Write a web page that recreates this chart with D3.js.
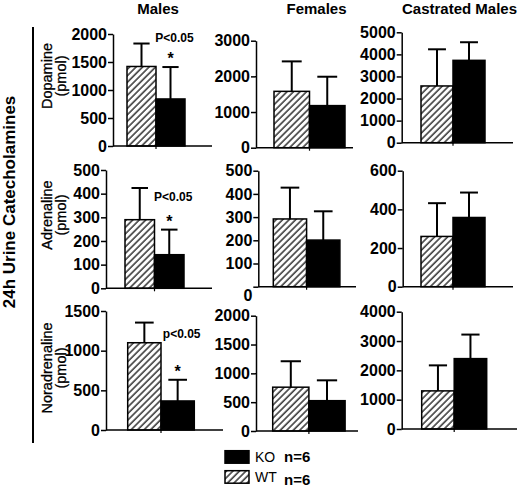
<!DOCTYPE html>
<html>
<head>
<meta charset="utf-8">
<script src="https://cdn.jsdelivr.net/npm/d3@7"></script>
<style>
  html, body { margin: 0; padding: 0; background: #fff; }
  svg { display: block; font-family: "Liberation Sans", Arial, sans-serif; }
</style>
</head>
<body>
<svg id="chart" width="520" height="487"></svg>
<script>
// ---------- DATA ----------
const categories = ["Males", "Females", "Castrated Males"];
const analytes = ["Dopamine", "Adrenaline", "Noradrenaline"];
const groups = ["WT", "KO"];
// rows = analytes, columns = categories
const wtMean = [[1420, 1580, 2570], [290, 292, 260], [1100, 760, 1300]];
const wtErr  = [[410, 840, 1660], [134, 135, 172], [254, 450, 870]];
const koMean = [[840, 1180, 3730], [142, 201, 358], [366, 526, 2400]];
const koErr  = [[570, 810, 820], [106, 124, 129], [267, 353, 820]];
const yMaxes = [[2000, 3000, 5000], [500, 500, 600], [1500, 2000, 4000]];
const yStep  = [[500, 1000, 1000], [100, 100, 200], [500, 500, 1000]];
const sigLabels = ["P<0.05", "P<0.05", "p<0.05"]; // Males column only
const yAxisUnit = "(pmol)";
const sideTitle = "24h Urine Catecholamines";
const legendItems = [{ g: "KO", n: "n=6" }, { g: "WT", n: "n=6" }];

// ---------- LAYOUT (pixel geometry per panel) ----------
const layout = [
  [{ ax: 113, y0: 146, yt: 34, bl: 127, bw: 29, xe: 212 },
   { ax: 256, y0: 147.7, yt: 40.7, bl: 274, bw: 35.5, xe: 353 },
   { ax: 401.7, y0: 142.7, yt: 32.3, bl: 421, bw: 32, xe: 513 }],
  [{ ax: 106, y0: 288.3, yt: 170, bl: 125, bw: 29.5, xe: 212 },
   { ax: 258.3, y0: 286.7, yt: 170.7, bl: 273.3, bw: 33.3, xe: 356, zeroShift: 9 },
   { ax: 402.7, y0: 286.7, yt: 170.7, bl: 421, bw: 32, xe: 513 }],
  [{ ax: 106, y0: 430, yt: 311, bl: 127.7, bw: 33.3, xe: 223 },
   { ax: 256, y0: 431, yt: 315.7, bl: 272.7, bw: 36.2, xe: 358 },
   { ax: 401.7, y0: 429, yt: 311.7, bl: 421.7, bw: 32.5, xe: 517 }]
];
const titleX = [158, 316.5, 459.5];
const ylabCenter = [76, 215, 368];

const svg = d3.select("#chart");
const defs = svg.append("defs");
const pat = defs.append("pattern")
  .attr("id", "hatch").attr("patternUnits", "userSpaceOnUse")
  .attr("width", 4.6).attr("height", 4.6)
  .attr("patternTransform", "rotate(45)");
pat.append("rect").attr("width", 4.6).attr("height", 4.6).attr("fill", "#fff");
pat.append("line").attr("x1", 1).attr("y1", 0).attr("x2", 1).attr("y2", 4.6)
  .attr("stroke", "#111").attr("stroke-width", 1.3);

// Column titles
categories.forEach((c, j) => {
  svg.append("text").attr("x", titleX[j]).attr("y", 14)
    .attr("text-anchor", "middle").attr("font-weight", "bold").attr("font-size", 15)
    .text(c);
});

// Side title + line
svg.append("text")
  .attr("transform", "translate(15,202) rotate(-90)")
  .attr("text-anchor", "middle").attr("font-weight", "bold").attr("font-size", 17)
  .text(sideTitle);
svg.append("line").attr("x1", 33).attr("x2", 33).attr("y1", 27).attr("y2", 443)
  .attr("stroke", "#000").attr("stroke-width", 2);

// Row y labels
analytes.forEach((a, i) => {
  const g = svg.append("g").attr("transform", `translate(0,${ylabCenter[i]})`);
  g.append("text").attr("transform", "translate(52,0) rotate(-90)")
    .attr("text-anchor", "middle").attr("font-size", 14.5)
    .attr("stroke", "#000").attr("stroke-width", 0.3).text(a);
  g.append("text").attr("transform", "translate(66,0) rotate(-90)")
    .attr("text-anchor", "middle").attr("font-size", 14.5)
    .attr("stroke", "#000").attr("stroke-width", 0.3).text(yAxisUnit);
});

// Panels
analytes.forEach((a, i) => {
  categories.forEach((c, j) => {
    const L = layout[i][j];
    const y = d3.scaleLinear().domain([0, yMaxes[i][j]]).range([L.y0, L.yt]);
    const x = d3.scaleBand().domain(groups).range([L.bl, L.bl + 2 * L.bw]).padding(0);
    const g = svg.append("g");

    const vals = [
      { g: "WT", m: wtMean[i][j], e: wtErr[i][j] },
      { g: "KO", m: koMean[i][j], e: koErr[i][j] }
    ];

    // error bars (upward only)
    vals.forEach(d => {
      const cx = x(d.g) + x.bandwidth() / 2;
      const cw = x.bandwidth() * 0.56;
      g.append("line").attr("x1", cx).attr("x2", cx)
        .attr("y1", y(d.m)).attr("y2", y(d.m + d.e))
        .attr("stroke", "#000").attr("stroke-width", 2);
      g.append("line").attr("x1", cx - cw / 2).attr("x2", cx + cw / 2)
        .attr("y1", y(d.m + d.e)).attr("y2", y(d.m + d.e))
        .attr("stroke", "#000").attr("stroke-width", 2);
    });

    // bars
    g.selectAll("rect.bar").data(vals).join("rect")
      .attr("class", "bar")
      .attr("x", d => x(d.g)).attr("width", x.bandwidth())
      .attr("y", d => y(d.m)).attr("height", d => y(0) - y(d.m))
      .attr("fill", d => d.g === "WT" ? "url(#hatch)" : "#000")
      .attr("stroke", "#000").attr("stroke-width", 1.5);

    // y axis
    const ticks = d3.range(0, yMaxes[i][j] + 1e-9, yStep[i][j]);
    const yAx = g.append("g").attr("transform", `translate(${L.ax},0)`)
      .call(d3.axisLeft(y).tickValues(ticks).tickFormat(d3.format("d"))
        .tickSize(5).tickPadding(1).tickSizeOuter(0));
    yAx.select(".domain").attr("stroke-width", 1.5);
    yAx.selectAll(".tick line").attr("stroke-width", 1.5);
    yAx.selectAll(".tick text").attr("font-size", 16).attr("font-weight", "bold")
      .attr("font-family", "'Liberation Sans', Arial, sans-serif").attr("fill", "#000");
    if (L.zeroShift) {
      yAx.selectAll(".tick").filter(d => d === 0).select("text").attr("dy", (0.32 + L.zeroShift / 16) + "em");
    }

    // x baseline
    g.append("line").attr("x1", L.ax).attr("x2", L.xe).attr("y1", y(0)).attr("y2", y(0))
      .attr("stroke", "#000").attr("stroke-width", 1.5);
    // center tick
    g.append("line").attr("x1", x("KO")).attr("x2", x("KO"))
      .attr("y1", y(0)).attr("y2", y(0) + 3)
      .attr("stroke", "#000").attr("stroke-width", 1.2);

    // significance (Males column)
    if (j === 0) {
      const ko = vals[1];
      const kx = x("KO") + x.bandwidth() / 2;
      g.append("text").attr("x", kx).attr("y", y(ko.m + ko.e) - 3)
        .attr("text-anchor", "middle").attr("font-weight", "bold").attr("font-size", 16)
        .text("*");
      const py = i === 0 ? y(yMaxes[i][j]) + 8 : (i === 1 ? y(ko.m + ko.e) - 29 : y(wtMean[i][j] + wtErr[i][j]) + 15);
      g.append("text").attr("x", kx + 4).attr("y", py)
        .attr("text-anchor", "middle").attr("font-weight", "bold").attr("font-size", 12)
        .text(sigLabels[i]);
    }
  });
});

// Legend
legendItems.forEach((d, k) => {
  const top = 450.7 + k * 20;
  svg.append("rect").attr("x", 225).attr("y", top).attr("width", 24).attr("height", 12.5)
    .attr("fill", d.g === "WT" ? "url(#hatch)" : "#000")
    .attr("stroke", "#000").attr("stroke-width", 1.5);
  svg.append("text").attr("x", 255).attr("y", top + 11.5).attr("font-size", 14).text(d.g);
  svg.append("text").attr("x", 284).attr("y", top + 11.5 + k * 2.5)
    .attr("font-weight", "bold").attr("font-size", 15).text(d.n);
});
</script>
</body>
</html>
